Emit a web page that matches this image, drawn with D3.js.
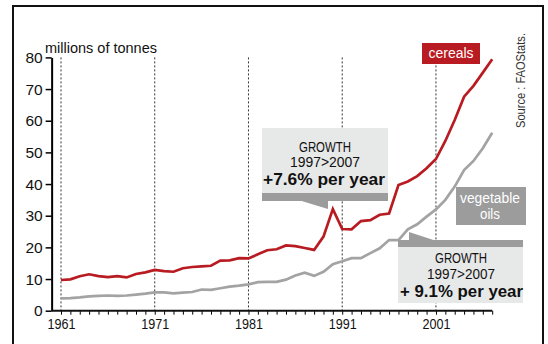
<!DOCTYPE html>
<html>
<head>
<meta charset="utf-8">
<script src="https://cdn.jsdelivr.net/npm/d3@7"></script>
<style>
body { margin: 0; background: #fff; }
svg text { font-family: "Liberation Sans", Arial, sans-serif; }
</style>
</head>
<body>
<svg></svg>
<script>
// data, 1961 -> 2007
const years = d3.range(1961, 2008)
const cereals = [9.7, 9.9, 10.9, 11.5, 10.9, 10.6, 10.9, 10.5, 11.6, 12.1,
	12.9, 12.5, 12.3, 13.4, 13.8, 14.0, 14.2, 15.8, 15.9, 16.6,
	16.5, 17.8, 19.1, 19.4, 20.6, 20.4, 19.8, 19.2, 23.4, 32.1,
	25.8, 25.7, 28.3, 28.6, 30.3, 30.7, 39.7, 40.8, 42.5, 45.0,
	47.9, 53.6, 60.2, 67.6, 71.0, 75.2, 79.4]
const vegOils = [3.9, 4.0, 4.2, 4.5, 4.7, 4.8, 4.7, 4.8, 5.1, 5.4,
	5.8, 5.8, 5.5, 5.7, 5.9, 6.7, 6.6, 7.1, 7.6, 7.9,
	8.3, 9.0, 9.1, 9.1, 9.8, 11.1, 12.0, 11.0, 12.3, 14.7,
	15.6, 16.6, 16.6, 18.2, 19.7, 22.3, 22.3, 25.7, 27.3, 29.7,
	32.0, 35.0, 39.2, 44.4, 47.3, 51.3, 56.2]
const yTicks = [0, 10, 20, 30, 40, 50, 60, 70, 80]
const decades = [1961, 1971, 1981, 1991, 2001]

const svg = d3.select("svg")
	.attr("width", 548)
	.attr("height", 344)

// helper: text squeezed to the width seen in the picture (condensed face)
const label = function (parent, tx, ty, str, size, width, opts = {}) {
	const t = parent.append("text")
		.attr("x", tx)
		.attr("y", ty)
		.attr("font-size", size)
		.attr("text-anchor", opts.anchor || "middle")
		.attr("fill", opts.fill || "#111")
		.text(str)
	if (opts.bold) t.attr("font-weight", "bold")
	if (width) t.attr("textLength", width).attr("lengthAdjust", "spacingAndGlyphs")
	return t
}

// frame (open at the bottom)
svg.append("path")
	.attr("d", "M13,344 V6 H543 V344")
	.attr("fill", "none")
	.attr("stroke", "#111")
	.attr("stroke-width", 2)

const x = d3.scaleLinear()
	.domain([1961, 2007])
	.range([61, 492.2])

const y = d3.scaleLinear()
	.domain([0, 80])
	.range([310.7, 57.4])

// dotted decade lines
svg.selectAll("line.decade")
	.data(decades)
	.enter()
	.append("line")
	.attr("class", "decade")
	.attr("x1", d => x(d))
	.attr("x2", d => x(d))
	.attr("y1", y(80))
	.attr("y2", y(0))
	.attr("stroke", "#333")
	.attr("stroke-width", 1)
	.attr("stroke-dasharray", "2,2")

// y axis
const yAxis = svg.append("g")
	.attr("transform", `translate(${x(1960)},0)`)
	.call(d3.axisLeft(y).tickValues(yTicks).tickSize(6).tickSizeOuter(0).tickPadding(3))
yAxis.select(".domain").attr("stroke-width", 2)
yAxis.selectAll(".tick line").attr("stroke-width", 1.5)
yAxis.selectAll("text")
	.attr("font-size", 15.5)
	.attr("fill", "#111")
	.style("font-family", "'Liberation Sans', Arial, sans-serif")

// x axis
const xAxis = svg.append("g")
	.attr("transform", `translate(0,${y(0)})`)
	.call(d3.axisBottom(x).tickValues(years).tickSize(4).tickSizeOuter(0).tickPadding(3)
		.tickFormat(d => decades.includes(d) ? d : ""))
xAxis.select(".domain").remove()
xAxis.append("line")
	.attr("x1", x(1960))
	.attr("x2", x(2007))
	.attr("stroke", "#111")
	.attr("stroke-width", 2)
xAxis.selectAll(".tick line").attr("stroke-width", 1)
xAxis.selectAll("text")
	.attr("font-size", 15.5)
	.attr("fill", "#111")
	.style("font-family", "'Liberation Sans', Arial, sans-serif")
	.filter(d => decades.includes(d))
	.attr("textLength", 28)
	.attr("lengthAdjust", "spacingAndGlyphs")

label(svg, 45, 53, "millions of tonnes", 15.5, 112, { anchor: "start" })

// lines
const line = d3.line()
	.x((d, i) => x(years[i]))
	.y(d => y(d))

svg.append("path")
	.datum(vegOils)
	.attr("d", line)
	.attr("fill", "none")
	.attr("stroke", "#a3a3a3")
	.attr("stroke-width", 2.7)

svg.append("path")
	.datum(cereals)
	.attr("d", line)
	.attr("fill", "none")
	.attr("stroke", "#b81c22")
	.attr("stroke-width", 2.7)

// cereals growth box
svg.append("rect")
	.attr("x", 262).attr("y", 128).attr("width", 126).attr("height", 66)
	.attr("fill", "#e7e8e8")
svg.append("rect")
	.attr("x", 262).attr("y", 193).attr("width", 126).attr("height", 8)
	.attr("fill", "#9c9c9c")
svg.append("path")
	.attr("d", "M300,200.5 L328,200.5 L328,209 Z")
	.attr("fill", "#9c9c9c")
label(svg, 325, 151.5, "GROWTH", 14.5, 52)
label(svg, 325, 166.5, "1997>2007", 14.5, 70)
label(svg, 324, 185, "+7.6% per year", 16.5, 122, { bold: true })

// vegetable oils growth box
svg.append("rect")
	.attr("x", 398).attr("y", 246).attr("width", 125).attr("height", 57)
	.attr("fill", "#e7e8e8")
svg.append("rect")
	.attr("x", 398).attr("y", 240).attr("width", 125).attr("height", 7)
	.attr("fill", "#9c9c9c")
svg.append("path")
	.attr("d", "M409,240.5 L409,232 L435,240.5 Z")
	.attr("fill", "#9c9c9c")
label(svg, 461, 262.5, "GROWTH", 15, 52)
label(svg, 461, 279, "1997>2007", 15, 68)
label(svg, 461.5, 297, "+ 9.1% per year", 17, 123, { bold: true })

// legend labels
svg.append("rect")
	.attr("x", 422).attr("y", 43).attr("width", 58).attr("height", 21)
	.attr("fill", "#b81c22")
label(svg, 451, 57.5, "cereals", 15.5, 45, { fill: "#fff" })

svg.append("rect")
	.attr("x", 456).attr("y", 187).attr("width", 70).attr("height", 38)
	.attr("fill", "#9c9c9c")
label(svg, 490, 203, "vegetable", 15.5, 60, { fill: "#fff" })
label(svg, 490, 219, "oils", 15.5, 20, { fill: "#fff" })

// source
label(svg, 0, 0, "Source : FAOStats.", 12, 95, { fill: "#333" })
	.attr("transform", "translate(525,80.5) rotate(-90)")
</script>
</body>
</html>
